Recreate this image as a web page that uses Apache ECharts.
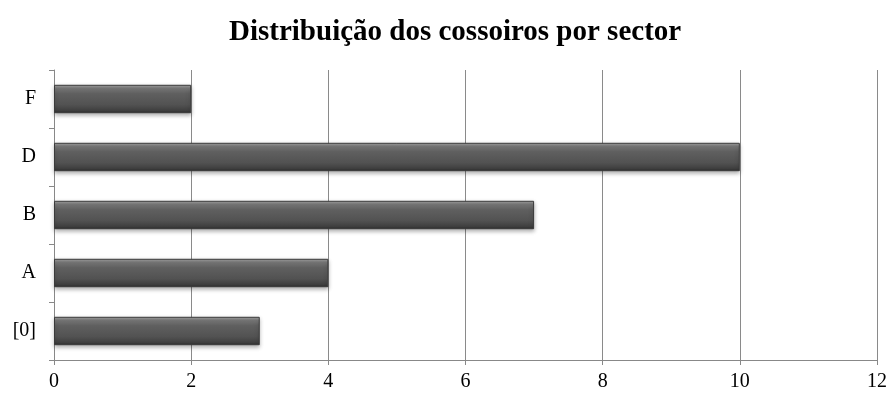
<!DOCTYPE html>
<html><head><meta charset="utf-8">
<script src="https://cdn.jsdelivr.net/npm/echarts@6/dist/echarts.min.js"></script>
<style>html,body{margin:0;padding:0;background:#fff}#c{width:891px;height:399px}</style>
</head><body><div id="c"></div>
<script>
var categories = ['[0]', 'A', 'B', 'D', 'F'];
var values = [3, 4, 7, 10, 2];
var xTicks = { min: 0, max: 12, interval: 2 };
var titleText = 'Distribuição dos cossoiros por sector';

var chart = echarts.init(document.getElementById('c'));
chart.setOption({
  animation: false,
  backgroundColor: '#fff',
  title: { text: titleText, left: 224, top: 13,
    textStyle: { fontFamily: 'Liberation Serif', fontWeight: 'bold', fontSize: 29, color: '#000' } },
  grid: { left: 54, right: 14, top: 70, bottom: 39 },
  xAxis: { type: 'value', min: xTicks.min, max: xTicks.max, interval: xTicks.interval,
    axisLine: { show: true, lineStyle: { color: '#888' } },
    axisTick: { show: true, length: 5, lineStyle: { color: '#888' } },
    splitLine: { show: true, lineStyle: { color: '#8a8a8a' } },
    axisLabel: { fontFamily: 'Liberation Serif', fontSize: 20, color: '#000', margin: 12 } },
  yAxis: { type: 'category', data: categories,
    axisLine: { show: true, lineStyle: { color: '#888' } },
    axisTick: { show: true, length: 5, lineStyle: { color: '#888' } },
    axisLabel: { fontFamily: 'Liberation Serif', fontSize: 20, color: '#000', margin: 18 } },
  series: [{ type: 'bar', data: values, barWidth: '49%',
    itemStyle: {
      color: new echarts.graphic.LinearGradient(0, 0, 0, 1, [
        { offset: 0, color: '#a8a8a8' },
        { offset: 0.12, color: '#7a7a7a' },
        { offset: 0.3, color: '#606060' },
        { offset: 0.7, color: '#525252' },
        { offset: 0.9, color: '#404040' },
        { offset: 1, color: '#2e2e2e' }
      ]),
      borderColor: '#3a3a3a', borderWidth: 1,
      shadowColor: 'rgba(0,0,0,0.3)', shadowBlur: 4, shadowOffsetY: 2
    } }]
});
</script></body></html>
